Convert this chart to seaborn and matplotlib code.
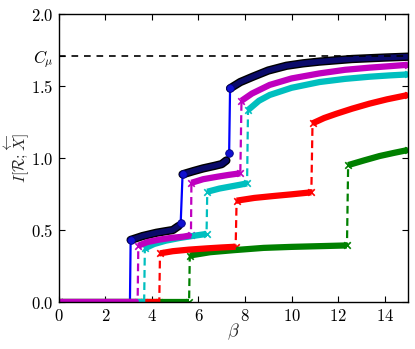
import matplotlib
matplotlib.use("Agg")
import matplotlib.pyplot as plt
import seaborn as sns

# Information curves I[R; X<-] vs beta.
# Each series is a list of segments; the jumps between segments are drawn as lines.
C_MU = 1.71

blue_beta = [[0, 3.06],
             [3.09, 3.6, 4.2, 4.6, 4.9, 5.15],
             [5.24],
             [5.32, 5.8, 6.2, 6.7, 7.0, 7.2],
             [7.32],
             [7.36, 7.8, 8.34, 9.0, 9.78, 10.5, 11.2, 12.6, 14.0, 15.0]]
blue_I = [[0, 0],
          [0.433, 0.46, 0.483, 0.494, 0.502, 0.53],
          [0.553],
          [0.889, 0.912, 0.93, 0.948, 0.96, 0.985],
          [1.04],
          [1.486, 1.53, 1.567, 1.61, 1.643, 1.66, 1.672, 1.69, 1.70, 1.706]]

magenta_beta = [[0, 3.39],
                [3.42, 3.8, 4.3, 4.8, 5.35, 5.68],
                [5.7, 6.2, 6.8, 7.3, 7.8],
                [7.85, 8.3, 9.06, 10.0, 11.2, 12.3, 13.35, 14.2, 15.0]]
magenta_I = [[0, 0],
             [0.393, 0.418, 0.435, 0.447, 0.456, 0.465],
             [0.83, 0.855, 0.872, 0.885, 0.896],
             [1.40, 1.45, 1.51, 1.555, 1.59, 1.615, 1.63, 1.64, 1.65]]

cyan_beta = [[0, 3.67],
             [3.7, 4.1, 4.6, 5.2, 5.8, 6.35],
             [6.38, 6.9, 7.4, 7.8, 8.09],
             [8.13, 8.6, 9.06, 10.0, 11.2, 12.3, 13.35, 14.2, 15.0]]
cyan_I = [[0, 0],
          [0.375, 0.405, 0.428, 0.447, 0.462, 0.475],
          [0.768, 0.79, 0.805, 0.817, 0.826],
          [1.335, 1.40, 1.44, 1.49, 1.53, 1.552, 1.567, 1.576, 1.583]]

red_beta = [[0, 4.32],
            [4.35, 4.9, 5.6, 6.4, 7.0, 7.6],
            [7.64, 8.4, 9.2, 10.0, 10.85],
            [10.9, 11.4, 11.93, 12.6, 13.35, 14.1, 15.0]]
red_I = [[0, 0],
         [0.34, 0.355, 0.366, 0.375, 0.381, 0.386],
         [0.706, 0.725, 0.738, 0.75, 0.764],
         [1.243, 1.28, 1.31, 1.345, 1.38, 1.41, 1.44]]

green_beta = [[0, 5.6],
              [5.63, 6.5, 7.5, 8.8, 10.0, 11.2, 12.38],
              [12.43, 13.1, 13.78, 14.4, 15.0]]
green_I = [[0, 0],
           [0.325, 0.348, 0.362, 0.378, 0.385, 0.39, 0.395],
           [0.953, 0.985, 1.016, 1.038, 1.058]]

sns.set_style("ticks")
plt.rcParams["mathtext.fontset"] = "cm"
plt.rcParams["xtick.direction"] = "in"
plt.rcParams["ytick.direction"] = "in"
plt.rcParams["xtick.top"] = True
plt.rcParams["ytick.right"] = True

fig = plt.figure(figsize=(4.15, 3.49), dpi=100)
ax = fig.add_axes([0.1414, 0.1338, 0.8417, 0.825])


def flat(segs):
    return [v for s in segs for v in s]


def draw_x_series(betas, vals, color):
    # dashed connecting line (visible at the jumps)
    sns.lineplot(x=flat(betas), y=flat(vals), sort=False, estimator=None,
                 color=color, lw=1.6, ax=ax, linestyle=(0, (3.5, 2)))
    # thick band formed by the dense markers
    for b, v in zip(betas, vals):
        sns.lineplot(x=b, y=v, sort=False, estimator=None, color=color,
                     lw=4.5, ax=ax, solid_capstyle="butt")
        ends = [0, len(b) - 1]
        sns.scatterplot(x=[b[i] for i in ends], y=[v[i] for i in ends],
                        marker="x", s=22, color=color, linewidth=1.2, ax=ax)


# blue solid series with round markers
sns.lineplot(x=flat(blue_beta), y=flat(blue_I), sort=False, estimator=None,
             color="b", lw=1.6, ax=ax)
for b, v in zip(blue_beta[1:], blue_I[1:]):
    if len(b) > 1:
        sns.lineplot(x=b, y=v, sort=False, estimator=None, color="k",
                     lw=6, ax=ax, solid_capstyle="round")
        sns.lineplot(x=b, y=v, sort=False, estimator=None, color="#0a0a6a",
                     lw=4, ax=ax, solid_capstyle="round")
    sns.scatterplot(x=b[:1], y=v[:1], marker="o", s=30, color="#1010d0",
                    edgecolor="#000080", linewidth=0.6, ax=ax, zorder=5)

draw_x_series(green_beta, green_I, "g")
draw_x_series(red_beta, red_I, "r")
draw_x_series(cyan_beta, cyan_I, "c")
draw_x_series(magenta_beta, magenta_I, "m")

ax.axhline(C_MU, color="k", lw=1.2, linestyle=(0, (4, 3.5)))

ax.set_xlim(0, 15)
ax.set_ylim(0, 2.0)
ax.set_xticks([0, 2, 4, 6, 8, 10, 12, 14])
ax.set_xticklabels(["$%d$" % t for t in [0, 2, 4, 6, 8, 10, 12, 14]])
ax.set_yticks([0.0, 0.5, 1.0, 1.5, C_MU, 2.0])
ax.set_yticklabels(["$0.0$", "$0.5$", "$1.0$", "$1.5$", r"$C_\mu$", "$2.0$"])
ax.tick_params(labelsize=12, length=4, width=0.8, colors="k")
for sp in ax.spines.values():
    sp.set_linewidth(1.0)
    sp.set_color("k")

ax.set_xlabel(r"$\beta$", fontsize=13)
ax.set_ylabel(r"$I[\mathcal{R};\overleftarrow{X}]$", fontsize=11.5)
ax.xaxis.set_label_coords(0.5, -0.065)
ax.yaxis.set_label_coords(-0.075, 0.5)

fig.savefig("out.png", dpi=100)
